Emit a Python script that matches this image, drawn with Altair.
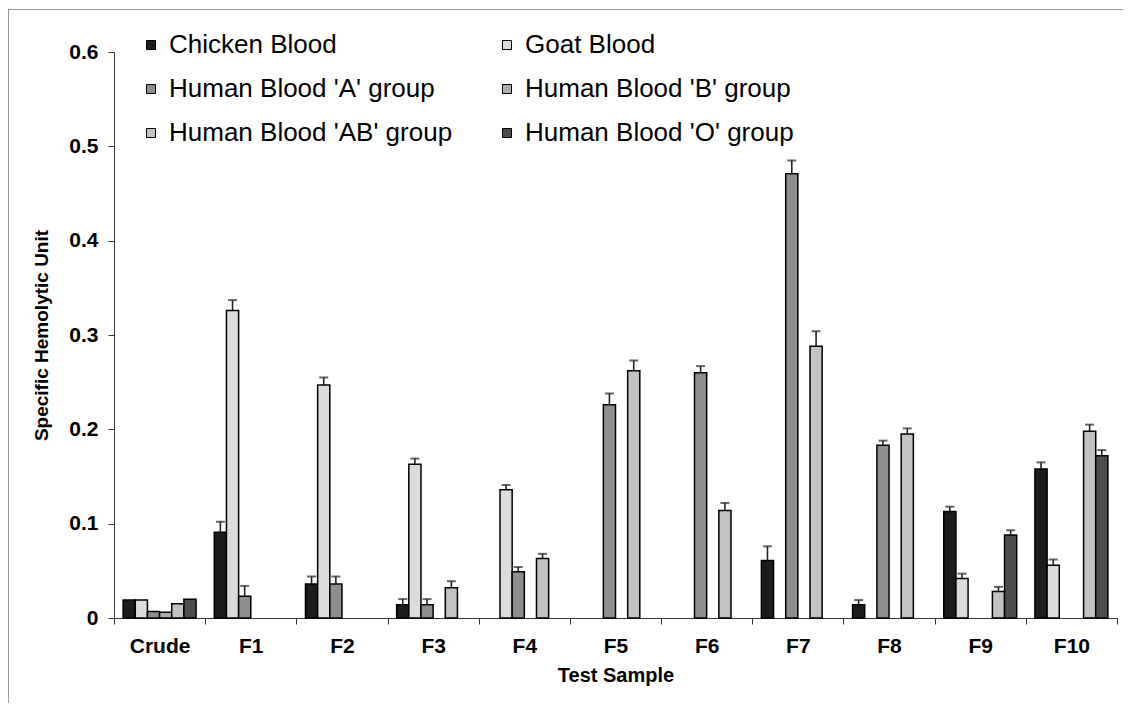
import altair as alt
import pandas as pd

samples = ["Crude", "F1", "F2", "F3", "F4", "F5", "F6", "F7", "F8", "F9", "F10"]
series = [
    "Chicken Blood",
    "Goat Blood",
    "Human Blood 'A' group",
    "Human Blood 'B' group",
    "Human Blood 'AB' group",
    "Human Blood 'O' group",
]

chicken = [0.019, 0.091, 0.036, 0.014, 0, 0, 0, 0.061, 0.014, 0.113, 0.158]
chicken_err = [0, 0.011, 0.008, 0.006, 0, 0, 0, 0.015, 0.005, 0.005, 0.007]
goat = [0.019, 0.326, 0.247, 0.163, 0.136, 0, 0, 0, 0, 0.042, 0.056]
goat_err = [0, 0.011, 0.008, 0.006, 0.005, 0, 0, 0, 0, 0.005, 0.006]
human_a = [0.007, 0.023, 0.036, 0.014, 0.049, 0.226, 0.260, 0.471, 0.183, 0, 0]
human_a_err = [0, 0.011, 0.008, 0.006, 0.005, 0.012, 0.007, 0.014, 0.005, 0, 0]
human_b = [0.006, 0, 0, 0, 0, 0, 0, 0, 0, 0, 0]
human_b_err = [0, 0, 0, 0, 0, 0, 0, 0, 0, 0, 0]
human_ab = [0.015, 0, 0, 0.032, 0.063, 0.262, 0.114, 0.288, 0.195, 0.028, 0.198]
human_ab_err = [0, 0, 0, 0.007, 0.005, 0.011, 0.008, 0.016, 0.006, 0.005, 0.007]
human_o = [0.020, 0, 0, 0, 0, 0, 0, 0, 0, 0.088, 0.172]
human_o_err = [0, 0, 0, 0, 0, 0, 0, 0, 0, 0.005, 0.006]

fills = ["#1c1c1c", "#dcdcdc", "#8e8e8e", "#adadad", "#c2c2c2", "#4d4d4d"]

values = [chicken, goat, human_a, human_b, human_ab, human_o]
errors = [chicken_err, goat_err, human_a_err, human_b_err, human_ab_err, human_o_err]

rows = []
for s, vals, errs in zip(series, values, errors):
    for sample, v, e in zip(samples, vals, errs):
        rows.append({"sample": sample, "series": s, "value": v, "upper": v + e, "err": e})
df = pd.DataFrame(rows)

FONT = "Liberation Sans"

x_enc = alt.X(
    "sample:N",
    sort=samples,
    scale=alt.Scale(paddingInner=0, paddingOuter=0),
    axis=alt.Axis(
        title="Test Sample",
        labelAngle=0,
        tickBand="extent",
        labelFont=FONT,
        labelFontSize=21,
        labelFontWeight="bold",
        labelColor="black",
        labelPadding=11,
        titleFont=FONT,
        titleFontSize=20,
        titleFontWeight="bold",
        titleColor="black",
        titlePadding=9,
        domainColor="#333333",
        tickColor="#333333",
        tickSize=6,
    ),
)
xoff_enc = alt.XOffset(
    "series:N", sort=series, scale=alt.Scale(domain=series, paddingInner=0, paddingOuter=0.75)
)
y_scale = alt.Scale(domain=[0, 0.6], nice=False, zero=True)

bars = (
    alt.Chart(df)
    .transform_filter("datum.value > 0")
    .mark_bar(stroke="black", strokeWidth=1.5)
    .encode(
        x=x_enc,
        xOffset=xoff_enc,
        y=alt.Y(
            "value:Q",
            scale=y_scale,
            axis=alt.Axis(
                title="Specific Hemolytic Unit",
                values=[0, 0.1, 0.2, 0.3, 0.4, 0.5, 0.6],
                labelExpr="datum.value == 0 ? '0' : format(datum.value, '.1f')",
                grid=False,
                labelFont=FONT,
                labelFontSize=21,
                labelFontWeight="bold",
                labelColor="black",
                labelPadding=10,
                titleFont=FONT,
                titleFontSize=19,
                titleFontWeight="bold",
                titleColor="black",
                titlePadding=17,
                domainColor="#333333",
                tickColor="#333333",
                tickSize=6,
            ),
        ),
        color=alt.Color(
            "series:N",
            sort=series,
            scale=alt.Scale(domain=series, range=fills),
            legend=alt.Legend(
                title=None,
                orient="none",
                direction="horizontal",
                legendX=24,
                legendY=-20,
                columns=2,
                columnPadding=41,
                rowPadding=18,
                symbolType="square",
                symbolSize=81,
                symbolStrokeColor="black",
                symbolStrokeWidth=1,
                labelFont=FONT,
                labelFontSize=26,
                labelColor="black",
                labelOffset=5,
                labelLimit=500,
            ),
        ),
    )
)

err_base = alt.Chart(df).transform_filter("datum.err > 0")

rules = err_base.mark_rule(color="#222222", strokeWidth=1.6).encode(
    x=x_enc, xOffset=xoff_enc, y=alt.Y("value:Q", scale=y_scale), y2="upper:Q"
)
caps = err_base.mark_tick(color="#222222", thickness=2, size=9).encode(
    x=x_enc, xOffset=xoff_enc, y=alt.Y("upper:Q", scale=y_scale)
)

# thin figure frame (left and top edges), as in the source image
frame_df = pd.DataFrame({"edge": ["left"]})
frame_left = alt.Chart(frame_df).mark_rule(color="#9a9a9a", strokeWidth=1).encode(
    x=alt.value(-105.5), y=alt.value(-43), y2=alt.value(700)
)
frame_top = alt.Chart(frame_df).mark_rule(color="#9a9a9a", strokeWidth=1).encode(
    x=alt.value(-106), x2=alt.value(1020), y=alt.value(-42.5)
)

chart = (
    alt.layer(bars, rules, caps, frame_left, frame_top)
    .properties(
        width=1003,
        height=566,
        autosize=alt.AutoSizeParams(type="none"),
        padding={"left": 106, "top": 44, "right": 6, "bottom": 85},
        background="white",
    )
    .configure_view(stroke=None)
)

chart.save("out.html", embed_options={"renderer": "svg", "actions": False})
